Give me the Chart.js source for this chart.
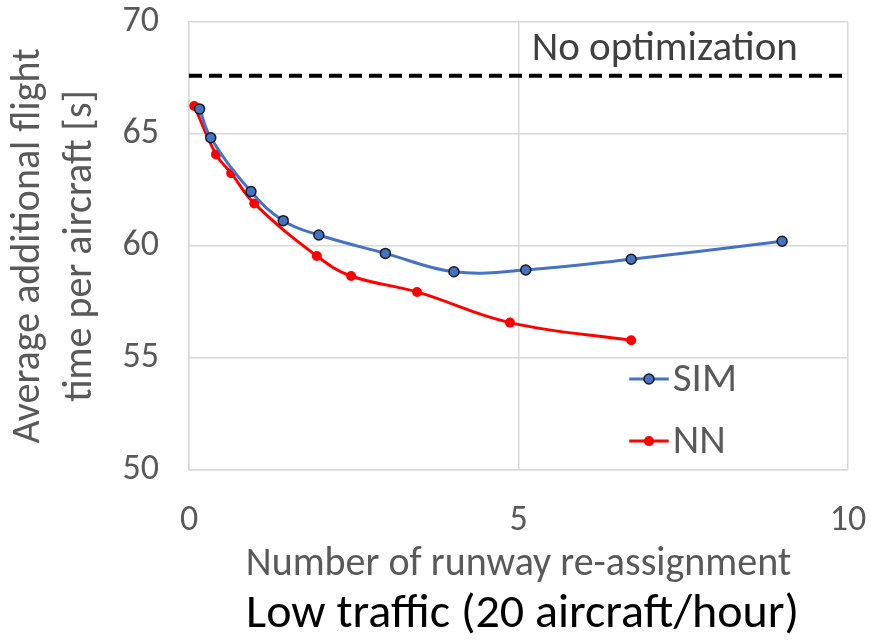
<!DOCTYPE html>
<html>
<head>
<meta charset="utf-8">
<script src="https://cdn.jsdelivr.net/npm/chart.js@4/dist/chart.umd.min.js"></script>
<style>
  html, body { margin: 0; padding: 0; background: #ffffff; }
  #wrap { width: 871px; height: 643px; }
</style>
</head>
<body>
<div id="wrap"><canvas id="chart" width="871" height="643"></canvas></div>
<script>
// Runway re-assignment count vs. average additional flight time (low traffic)
const simX = [0.16, 0.33, 0.94, 1.43, 1.97, 2.98, 4.02, 5.11, 6.71, 9.0];
const simY = [66.12, 64.83, 62.43, 61.13, 60.49, 59.67, 58.85, 58.93, 59.41, 60.21];

const nnX = [0.08, 0.41, 0.64, 0.99, 1.94, 2.46, 3.46, 4.87, 6.71];
const nnY = [66.25, 64.09, 63.25, 61.9, 59.55, 58.66, 57.95, 56.58, 55.79];

// Baseline without optimization
const baselineX = [0, 10];
const baselineY = [67.6, 67.6];

const xTicks = [0, 5, 10];
const yTicks = [50, 55, 60, 65, 70];

const seriesNames = ['SIM', 'NN'];
const baselineLabel = 'No optimization';
const xTitle = 'Number of runway re-assignment';
const yTitle = ['Average additional flight', 'time per aircraft [s]'];
const caption = 'Low traffic (20 aircraft/hour)';

const FONT = "Carlito, Lato, 'Open Sans', sans-serif";
const GREY = '#595959';
const GRID = '#d9d9d9';

const toPoints = (xs, ys) => xs.map((x, i) => ({ x: x, y: ys[i] }));

// Legend inside the plot area plus the baseline label and the caption
const annotations = {
  id: 'annotations',
  afterDatasetsDraw(chart) {
    const ctx = chart.ctx;
    const xs = chart.scales.x, ys = chart.scales.y;
    ctx.save();

    // "No optimization" label above the dashed line
    ctx.font = '41px ' + FONT;
    ctx.fillStyle = '#404040';
    ctx.textAlign = 'left';
    ctx.textBaseline = 'alphabetic';
    ctx.fillText(baselineLabel, xs.getPixelForValue(5.2), ys.getPixelForValue(68.3));

    // legend entries
    const entries = [
      { ds: chart.data.datasets[0], y: 54.06 },
      { ds: chart.data.datasets[1], y: 51.29 }
    ];
    entries.forEach(e => {
      const py = ys.getPixelForValue(e.y);
      const x0 = xs.getPixelForValue(6.68), x1 = xs.getPixelForValue(7.28);
      ctx.strokeStyle = e.ds.borderColor;
      ctx.lineWidth = e.ds.borderWidth;
      ctx.beginPath();
      ctx.moveTo(x0, py);
      ctx.lineTo(x1, py);
      ctx.stroke();
      ctx.beginPath();
      ctx.arc((x0 + x1) / 2, py, e.ds.pointRadius, 0, Math.PI * 2);
      ctx.fillStyle = e.ds.pointBackgroundColor;
      ctx.fill();
      if (e.ds.pointBorderWidth > 0) {
        ctx.strokeStyle = e.ds.pointBorderColor;
        ctx.lineWidth = e.ds.pointBorderWidth;
        ctx.stroke();
      }
      ctx.font = '41px ' + FONT;
      ctx.fillStyle = GREY;
      ctx.textAlign = 'left';
      ctx.textBaseline = 'middle';
      ctx.fillText(e.ds.label, x1 + 4, py + 2);
    });

    // caption under the x axis title
    ctx.font = '48px ' + FONT;
    ctx.fillStyle = '#000000';
    ctx.textAlign = 'center';
    ctx.textBaseline = 'alphabetic';
    ctx.fillText(caption, (chart.chartArea.left + chart.chartArea.right) / 2 + 4, 627);
    ctx.restore();
  }
};

new Chart(document.getElementById('chart'), {
  type: 'scatter',
  data: {
    datasets: [
      {
        label: seriesNames[0],
        data: toPoints(simX, simY),
        showLine: true,
        tension: 0.4,
        borderColor: '#4472C4',
        borderWidth: 3,
        pointRadius: 5,
        pointBackgroundColor: '#4472C4',
        pointBorderColor: '#1a1a1a',
        pointBorderWidth: 1.5
      },
      {
        label: seriesNames[1],
        data: toPoints(nnX, nnY),
        showLine: true,
        tension: 0.4,
        borderColor: '#FF0000',
        borderWidth: 3,
        pointRadius: 5,
        pointBackgroundColor: '#FF0000',
        pointBorderColor: '#FF0000',
        pointBorderWidth: 0
      },
      {
        label: baselineLabel,
        data: toPoints(baselineX, baselineY),
        showLine: true,
        borderColor: '#000000',
        borderWidth: 4,
        borderDash: [13, 7],
        pointRadius: 0
      }
    ]
  },
  options: {
    responsive: false,
    animation: false,
    devicePixelRatio: 1,
    layout: { autoPadding: false, padding: { top: 22, right: 23, left: 0, bottom: 0 } },
    plugins: {
      legend: { display: false },
      tooltip: { enabled: false }
    },
    scales: {
      x: {
        type: 'linear',
        min: 0,
        max: 10,
        afterFit(scale) {
          scale.height = 173;
          scale.paddingLeft = 0; scale.paddingRight = 0;
          scale.paddingTop = 0; scale.paddingBottom = 0;
        },
        afterBuildTicks(scale) { scale.ticks = xTicks.map(v => ({ value: v })); },
        grid: { color: GRID, lineWidth: 1.5, drawTicks: false },
        border: { display: true, color: GRID, width: 1.5 },
        ticks: { padding: 29, color: GREY, font: { family: FONT, size: 36 }, maxRotation: 0 },
        title: {
          display: true,
          text: xTitle,
          color: GREY,
          font: { family: FONT, size: 40, lineHeight: 1.2 },
          padding: { top: 0, bottom: 54 }
        }
      },
      y: {
        type: 'linear',
        min: 50,
        max: 70,
        afterFit(scale) {
          scale.width = 189;
          scale.paddingLeft = 0; scale.paddingRight = 0;
          scale.paddingTop = 0; scale.paddingBottom = 0;
        },
        afterBuildTicks(scale) { scale.ticks = yTicks.map(v => ({ value: v })); },
        grid: { color: GRID, lineWidth: 1.5, drawTicks: false },
        border: { display: true, color: GRID, width: 1.5 },
        ticks: { padding: 30, color: GREY, font: { family: FONT, size: 36 } },
        title: {
          display: true,
          text: yTitle,
          color: GREY,
          font: { family: FONT, size: 40, lineHeight: 1.3 },
          padding: { top: 3, bottom: 0 }
        }
      }
    }
  },
  plugins: [annotations]
});
</script>
</body>
</html>
